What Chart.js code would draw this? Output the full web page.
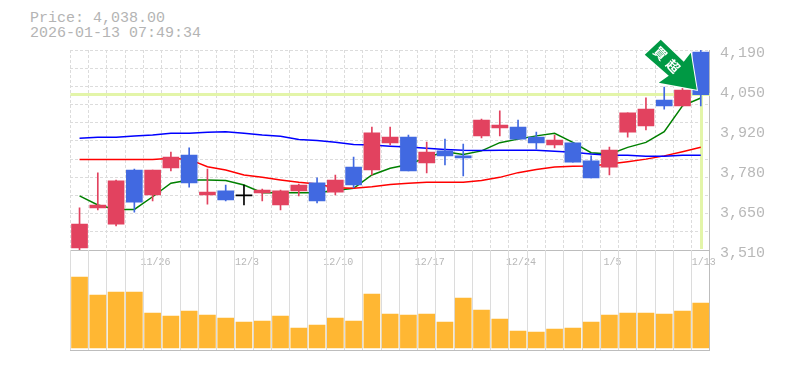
<!DOCTYPE html>
<html>
<head>
<meta charset="utf-8">
<script src="https://cdn.jsdelivr.net/npm/chart.js@4"></script>
<style>
body { margin: 0; background: #fff; }
canvas { position: absolute; left: 0; top: 0; }
.head { position: absolute; left: 30px; color: #b4b4b4; font: 15px/15px "Liberation Mono", monospace; white-space: pre; }
</style>
</head>
<body>
<div class="head" style="top:11px">Price: 4,038.00</div>
<div class="head" style="top:26px">2026-01-13 07:49:34</div>
<canvas id="price-chart" width="785" height="370"></canvas>
<canvas id="volume-chart" width="785" height="370"></canvas>
<script>
const dates = ['11/19','11/20','11/21','11/25','11/26','11/27','11/28','12/1','12/2','12/3','12/4','12/5','12/8','12/9','12/10','12/11','12/12','12/15','12/16','12/17','12/18','12/19','12/22','12/23','12/24','12/25','12/26','12/29','12/30','1/5','1/6','1/7','1/8','1/9','1/13']
const shownDates = ['11/26','12/3','12/10','12/17','12/24','1/5','1/13']

const opens = [3517,3653,3598,3782,3697,3789,3833,3697,3711,3694,3704,3663,3711,3738,3707,3792,3782,3874,3894,3806,3847,3830,3898,3925,3928,3894,3867,3874,3813,3792,3911,3932,4020,4000,4183]
const closes = [3598,3663,3745,3673,3782,3826,3738,3707,3680,3694,3714,3711,3731,3677,3748,3731,3908,3894,3779,3843,3830,3823,3952,3935,3887,3874,3884,3809,3755,3850,3976,3989,4000,4054,4038]
const highs = [3653,3772,3748,3785,3782,3843,3857,3785,3731,3731,3717,3714,3734,3755,3765,3826,3928,3928,3901,3877,3887,3870,3955,3983,3952,3911,3901,3874,3830,3860,3976,4027,4064,4071,4190]
const lows = [3510,3646,3592,3639,3677,3779,3724,3666,3677,3663,3677,3646,3694,3670,3697,3721,3765,3867,3779,3772,3799,3762,3891,3898,3887,3853,3857,3809,3755,3765,3894,3918,3989,4000,4000]

const maShort = [3694,3663,3648,3648,3691,3737,3748,3748,3746,3731,3705,3705,3705,3705,3712,3720,3765,3788,3801,3825,3844,3835,3847,3875,3887,3898,3907,3876,3841,3836,3859,3876,3912,4000,4027]
const maMiddle = [3818,3818,3818,3818,3818,3822,3818,3793,3782,3765,3757,3748,3740,3734,3722,3720,3725,3733,3737,3740,3740,3740,3746,3757,3773,3784,3792,3795,3796,3802,3810,3819,3830,3844,3859]
const maLong = [3890,3893,3893,3898,3901,3907,3907,3910,3912,3907,3901,3897,3886,3882,3876,3869,3867,3863,3860,3856,3852,3849,3848,3849,3849,3849,3846,3842,3836,3832,3832,3829,3829,3832,3832]

const volumes = [71,53,56,56,35,32,37,33,30,26,27,32,20,23,30,27,54,34,33,34,26,50,38,29,17,16,19,20,26,33,35,35,34,37,45]

const priceTicks = [3510,3646,3782,3918,4054,4190]
const priceGrid = [3510,3572,3634,3695,3757,3819,3881,3943,4005,4066,4128,4190]
const currentPrice = 4038
const signText = ['買','超']

const UP = '#e2425f'
const DOWN = '#4169e1'
const FLAT = '#000000'
const GRID = '#dcdcdc'
const AXIS = '#bdbdbd'
const TEXT = '#b8b8b8'
const CURRENT = '#e3f5a9'

const candleColor = (o, i) => closes[i] > o ? UP : (closes[i] < o ? DOWN : FLAT)
const candleColors = opens.map(candleColor)

Chart.defaults.animation = false
Chart.defaults.font.family = '"Liberation Mono", monospace'

// current price cross, goes behind the candles
const currentLine = {
    id: 'currentLine',
    beforeDatasetsDraw(chart) {
        const { ctx, chartArea, scales } = chart
        const y = Math.round(scales.y.getPixelForValue(currentPrice))
        const x = Math.round(scales.x.getPixelForValue(dates.length - 1))
        ctx.save()
        ctx.fillStyle = CURRENT
        ctx.fillRect(chartArea.left, y - 2, chartArea.width, 3)
        ctx.fillRect(x - 1, y, 3, chartArea.bottom - y - 1)
        ctx.restore()
    }
}

// green arrow sign pointing at the last candle
const arrowSign = {
    id: 'arrowSign',
    afterDatasetsDraw(chart) {
        const { ctx, scales } = chart
        const tx = scales.x.getPixelForValue(dates.length - 1) - 4
        const ty = scales.y.getPixelForValue(currentPrice) - 5
        ctx.save()
        ctx.translate(tx, ty)
        ctx.beginPath()
        ctx.moveTo(-36, -50)
        ctx.lineTo(-52, -35)
        ctx.lineTo(-28, -14)
        ctx.lineTo(-38, -7)
        ctx.lineTo(0, 0)
        ctx.lineTo(-6, -37)
        ctx.lineTo(-13, -28)
        ctx.closePath()
        ctx.fillStyle = '#009944'
        ctx.strokeStyle = '#ffffff'
        ctx.lineWidth = 2
        ctx.stroke()
        ctx.fill()
        ctx.translate(-30, -30)
        ctx.rotate(Math.PI / 4)
        ctx.fillStyle = '#ffffff'
        ctx.font = 'bold 13px "Noto Sans CJK JP"'
        ctx.textAlign = 'center'
        ctx.textBaseline = 'middle'
        ctx.fillText(signText[0], -9, 0)
        ctx.fillText(signText[1], 9, 0)
        ctx.restore()
    }
}

const maLine = (data, color) => ({
    type: 'line',
    data: data,
    borderColor: color,
    borderWidth: 1.5,
    pointRadius: 0,
    tension: 0,
    order: 5
})

new Chart(document.getElementById('price-chart'), {
    type: 'bar',
    plugins: [currentLine, arrowSign],
    data: {
        labels: dates,
        datasets: [
            maLine(maLong, '#0000ff'),
            maLine(maMiddle, '#ff0000'),
            maLine(maShort, '#008000'),
            {
                // wicks
                data: highs.map((h, i) => [lows[i], h]),
                backgroundColor: candleColors,
                barThickness: 1,
                grouped: false,
                order: 2
            },
            {
                // bodies
                data: opens.map((o, i) => [o, closes[i]]),
                backgroundColor: candleColors,
                barThickness: 16,
                minBarLength: 1,
                grouped: false,
                order: 1
            }
        ]
    },
    options: {
        responsive: false,
        layout: { padding: { left: 70.4, top: 50, right: 0, bottom: 100 } },
        plugins: { legend: { display: false }, tooltip: { enabled: false } },
        scales: {
            x: {
                offset: true,
                afterFit: axis => { axis.height = 20 },
                grid: { color: GRID, drawTicks: false, offset: true },
                border: { color: AXIS, dash: [3, 2], display: true },
                ticks: {
                    autoSkip: false,
                    maxRotation: 0,
                    padding: 6,
                    labelOffset: 3,
                    color: TEXT,
                    font: { size: 10 },
                    callback(value) {
                        const d = this.getLabelForValue(value)
                        return shownDates.includes(d) ? d : ''
                    }
                }
            },
            y: {
                position: 'left',
                min: 3510,
                max: 4190,
                afterBuildTicks: axis => { axis.ticks = priceGrid.map(v => ({ value: v })) },
                afterFit: axis => { axis.width = 0 },
                grid: { color: GRID, drawTicks: false },
                border: { display: false, dash: [3, 2] },
                ticks: { display: false }
            },
            yLabels: {
                position: 'right',
                min: 3510,
                max: 4190,
                afterBuildTicks: axis => { axis.ticks = priceTicks.map(v => ({ value: v })) },
                afterFit: axis => { axis.width = 75.1 },
                grid: { display: false },
                border: { color: AXIS },
                ticks: {
                    color: TEXT,
                    padding: 2,
                    labelOffset: 3,
                    font: { size: 15 },
                    callback: value => (Math.round(value / 10) * 10).toLocaleString('en-US')
                }
            }
        }
    }
})

new Chart(document.getElementById('volume-chart'), {
    type: 'bar',
    data: {
        labels: dates,
        datasets: [
            {
                data: volumes,
                backgroundColor: '#ffb733',
                barThickness: 16
            }
        ]
    },
    options: {
        responsive: false,
        layout: { padding: { left: 70.4, top: 250, right: 0, bottom: 20 } },
        plugins: { legend: { display: false }, tooltip: { enabled: false } },
        scales: {
            x: {
                offset: true,
                afterFit: axis => { axis.height = 0 },
                grid: { color: GRID, drawTicks: false, offset: true },
                border: { color: AXIS },
                ticks: { display: false }
            },
            y: {
                position: 'right',
                min: -2,
                max: 98,
                afterFit: axis => { axis.width = 75.1 },
                grid: { display: false },
                border: { color: AXIS },
                ticks: { display: false }
            }
        }
    }
})
</script>
</body>
</html>
